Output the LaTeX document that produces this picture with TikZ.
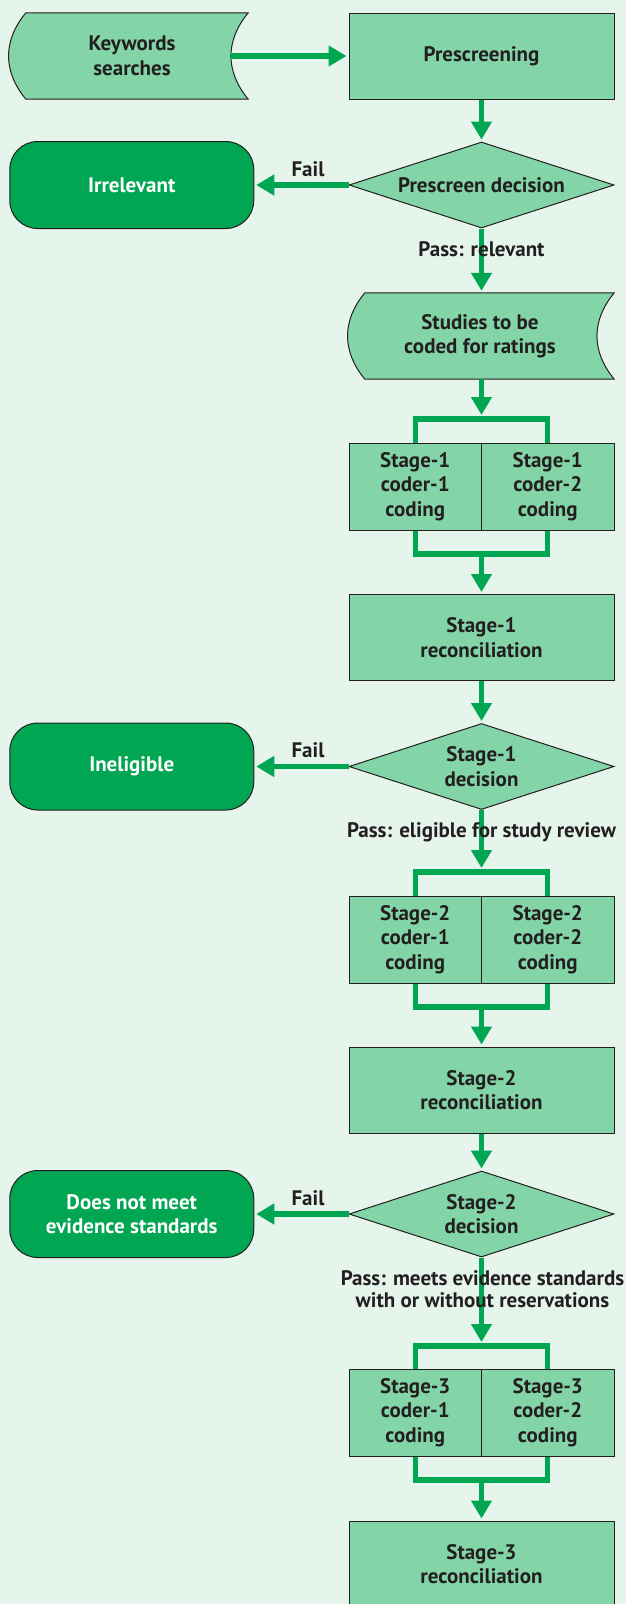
\documentclass[tikz,border=0pt]{standalone}
\usepackage{fontspec}
\setmainfont{PT Sans}
\usetikzlibrary{arrows.meta,shapes.geometric,backgrounds}

\definecolor{pagebg}{HTML}{E6F5EC}
\definecolor{boxfill}{HTML}{83D5A8}
\definecolor{darkgreen}{HTML}{00A651}
\definecolor{ink}{HTML}{231F20}

\tikzset{
	every node/.style={font=\bfseries\fontsize{21}{24.5}\selectfont, text=ink, align=center},
	procbox/.style={rectangle, draw=ink, line width=1pt, fill=boxfill, minimum width=265pt, minimum height=86pt, inner sep=0pt},
	coderbox/.style={procbox, minimum width=132.5pt, minimum height=87pt},
	decision/.style={diamond, aspect=3.08, draw=ink, line width=1pt, fill=boxfill, minimum width=265pt, minimum height=86pt, inner sep=0pt},
	terminal/.style={rectangle, rounded corners=28pt, draw=ink, line width=1pt, fill=darkgreen, text=white, minimum width=244pt, minimum height=87pt, inner sep=0pt},
	store/.style={minimum width=222pt, minimum height=86pt, inner sep=0pt},
	storeline/.style={draw=ink, line width=1pt, fill=boxfill},
	flow/.style={draw=darkgreen, line width=5.2pt},
	arrow/.style={flow, -{Triangle[length=18pt,width=20pt]}, shorten >=2pt},
	lbl/.style={inner sep=0pt}
}

\begin{document}
\begin{tikzpicture}[x=1pt,y=-1pt]
	\begin{scope}[on background layer]
		\fill[pagebg] (0,0) rectangle (626,1604);
	\end{scope}
	\useasboundingbox (0,0) rectangle (626,1604);

	% searches and prescreen
	\node[store] (kw) at (132,56) {Keywords\\searches};
	\begin{scope}[on background layer]
		\draw[storeline] ([xshift=5pt]kw.north west) -- ([xshift=5pt]kw.north east)
			.. controls +(-23,28) and +(-23,-28) .. ([xshift=5pt]kw.south east) -- ([xshift=5pt]kw.south west)
			.. controls +(-23,-28) and +(-23,28) .. ([xshift=5pt]kw.north west) -- cycle;
	\end{scope}
	\node[procbox] (pre) at (481.5,56) {Prescreening};
	\node[decision] (d0) at (481.5,185) {Prescreen decision};
	\node[terminal] (t0) at (131.75,185) {Irrelevant};
	\node[store, minimum width=249pt] (st) at (480,336) {Studies to be\\coded for ratings};
	\begin{scope}[on background layer]
		\draw[storeline] ([xshift=9.5pt]st.north west) -- ([xshift=9.5pt]st.north east)
			.. controls +(-23,28) and +(-23,-28) .. ([xshift=9.5pt]st.south east) -- ([xshift=9.5pt]st.south west)
			.. controls +(-23,-28) and +(-23,28) .. ([xshift=9.5pt]st.north west) -- cycle;
	\end{scope}

	% stage 1
	\coordinate (j1) at (481.5,419);
	\node[coderbox] (c1a) at (415.25,486.5) {Stage-1\\coder-1\\coding};
	\node[coderbox] (c1b) at (547.75,486.5) {Stage-1\\coder-2\\coding};
	\coordinate (k1) at (481.5,554);
	\node[procbox] (r1) at (481.5,637.5) {Stage-1\\reconciliation};
	\node[decision] (d1) at (481.5,766.5) {Stage-1\\decision};
	\node[terminal] (t1) at (131.75,766.5) {Ineligible};

	% stage 2
	\coordinate (j2) at (481.5,872);
	\node[coderbox] (c2a) at (415.25,939.5) {Stage-2\\coder-1\\coding};
	\node[coderbox] (c2b) at (547.75,939.5) {Stage-2\\coder-2\\coding};
	\coordinate (k2) at (481.5,1007);
	\node[procbox] (r2) at (481.5,1090) {Stage-2\\reconciliation};
	\node[decision] (d2) at (481.5,1214) {Stage-2\\decision};
	\node[terminal] (t2) at (131.75,1214) {Does not meet\\evidence standards};

	% stage 3
	\coordinate (j3) at (481.5,1346);
	\node[coderbox] (c3a) at (415.25,1412.5) {Stage-3\\coder-1\\coding};
	\node[coderbox] (c3b) at (547.75,1412.5) {Stage-3\\coder-2\\coding};
	\coordinate (k3) at (481.5,1480);
	\node[procbox] (r3) at (481.5,1564) {Stage-3\\reconciliation};

	% connectors
	\draw[arrow, shorten <=-12pt] (kw.east) -- (pre.west);
	\draw[arrow] (pre) -- (d0);
	\draw[arrow] (d0.west) -- (t0.east);
	\draw[arrow] (d0.south) -- (d0.south |- st.north);
	\draw[arrow, shorten >=4pt] (j1 |- st.south) -- (j1);
	\draw[flow] (c1a.north) |- (j1) -| (c1b.north);
	\draw[flow] (c1a.south) |- (k1) -| (c1b.south);
	\draw[arrow] (k1) -- (r1);
	\draw[arrow] (r1) -- (d1);
	\draw[arrow] (d1.west) -- (t1.east);
	\draw[arrow, shorten >=4pt] (d1.south) -- (j2);
	\draw[flow] (c2a.north) |- (j2) -| (c2b.north);
	\draw[flow] (c2a.south) |- (k2) -| (c2b.south);
	\draw[arrow] (k2) -- (r2);
	\draw[arrow] (r2) -- (d2);
	\draw[arrow] (d2.west) -- (t2.east);
	\draw[arrow, shorten >=4pt] (d2.south) -- (j3);
	\draw[flow] (c3a.north) |- (j3) -| (c3b.north);
	\draw[flow] (c3a.south) |- (k3) -| (c3b.south);
	\draw[arrow] (k3) -- (r3);

	% labels
	\node[lbl] (f0) at (308,169) {Fail};
	\node[lbl] (p0) at (481.5,249) {Pass: relevant};
	\node[lbl] (f1) at (308,750) {Fail};
	\node[lbl] (p1) at (481.5,832) {Pass: eligible for study review};
	\node[lbl] (f2) at (308,1198) {Fail};
	\node[lbl, font=\bfseries\fontsize{21}{22}\selectfont] (p2) at (482.5,1289) {Pass: meets evidence standards\\with or without reservations};
\end{tikzpicture}
\end{document}
